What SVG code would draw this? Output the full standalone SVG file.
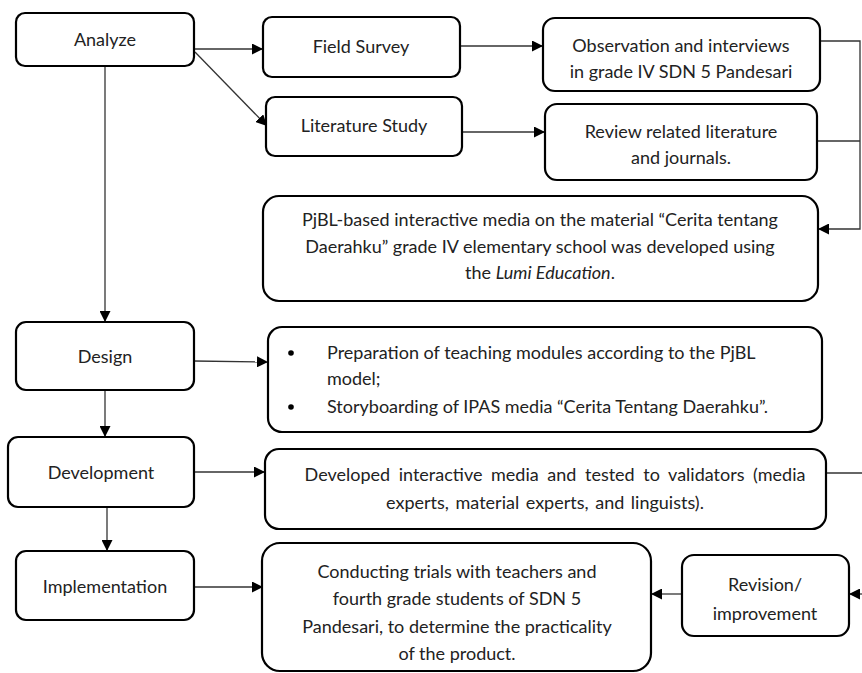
<svg xmlns="http://www.w3.org/2000/svg" width="862" height="673" viewBox="0 0 862 673">
<style>
.box{fill:#fff;stroke:#000;stroke-width:2.2}
.t{font-family:Lato,"Liberation Sans",sans-serif;font-size:18px;fill:#222;text-anchor:middle}
.l{text-anchor:start}
.c{fill:none;stroke:#333;stroke-width:1.3}
</style>
<defs>
<marker id="ah" viewBox="0 0 10 10" refX="10" refY="5" markerWidth="11" markerHeight="11" markerUnits="userSpaceOnUse" orient="auto">
<path d="M0,0 L10,5 L0,10 Z" fill="#000"/>
</marker>
</defs>
<g id="connectors">
<line class="c" x1="194" y1="49" x2="263" y2="49" marker-end="url(#ah)"/>
<line class="c" x1="195" y1="52" x2="267" y2="126" marker-end="url(#ah)"/>
<line class="c" x1="460" y1="46" x2="543" y2="46" marker-end="url(#ah)"/>
<line class="c" x1="462" y1="132" x2="545" y2="132" marker-end="url(#ah)"/>
<polyline class="c" points="820,41 860,41 860,229 818,229" marker-end="url(#ah)"/>
<line class="c" x1="817" y1="141" x2="860" y2="141"/>
<line class="c" x1="105" y1="66" x2="105" y2="322" marker-end="url(#ah)"/>
<line class="c" x1="194" y1="361" x2="268" y2="362" marker-end="url(#ah)"/>
<line class="c" x1="105" y1="390" x2="105" y2="437" marker-end="url(#ah)"/>
<line class="c" x1="194" y1="472" x2="265" y2="472" marker-end="url(#ah)"/>
<line class="c" x1="826" y1="473" x2="862" y2="473"/>
<line class="c" x1="107" y1="507" x2="107" y2="551" marker-end="url(#ah)"/>
<line class="c" x1="190" y1="587" x2="263" y2="587" marker-end="url(#ah)"/>
<line class="c" x1="682" y1="594" x2="651" y2="594" marker-end="url(#ah)"/>
<line class="c" x1="862" y1="594" x2="849" y2="594" marker-end="url(#ah)"/>
</g>
<g id="analyze">
<rect class="box" x="16" y="13" width="178" height="53" rx="9"/>
<text class="t" x="105" y="46">Analyze</text>
</g>
<g id="field-survey">
<rect class="box" x="263" y="17" width="197" height="60" rx="9"/>
<text class="t" x="361" y="53">Field Survey</text>
</g>
<g id="literature-study">
<rect class="box" x="266" y="97" width="196" height="59" rx="9"/>
<text class="t" x="364" y="132">Literature Study</text>
</g>
<g id="observation">
<rect class="box" x="543" y="18" width="277" height="73" rx="12"/>
<text class="t" x="681" y="52">Observation and interviews</text>
<text class="t" x="681" y="78">in grade IV SDN 5 Pandesari</text>
</g>
<g id="review">
<rect class="box" x="545" y="104" width="272" height="76" rx="12"/>
<text class="t" x="681" y="138">Review related literature</text>
<text class="t" x="681" y="164">and journals.</text>
</g>
<g id="pjbl-media">
<rect class="box" x="263" y="196" width="555" height="105" rx="16"/>
<text class="t" x="540" y="226">PjBL-based interactive media on the material “Cerita tentang</text>
<text class="t" x="540" y="253">Daerahku” grade IV elementary school was developed using</text>
<text class="t" x="540" y="279">the <tspan font-style="italic">Lumi Education</tspan>.</text>
</g>
<g id="design">
<rect class="box" x="16" y="322" width="178" height="68" rx="10"/>
<text class="t" x="105" y="363">Design</text>
</g>
<g id="design-tasks">
<rect class="box" x="268" y="327" width="554" height="105" rx="14"/>
<circle cx="291" cy="353" r="2.8" fill="#000"/>
<circle cx="291" cy="407" r="2.8" fill="#000"/>
<text class="t l" x="327" y="359">Preparation of teaching modules according to the PjBL</text>
<text class="t l" x="327" y="385">model;</text>
<text class="t l" x="327" y="413">Storyboarding of IPAS media “Cerita Tentang Daerahku”.</text>
</g>
<g id="development">
<rect class="box" x="8" y="437" width="186" height="70" rx="10"/>
<text class="t" x="101" y="479">Development</text>
</g>
<g id="developed-media">
<rect class="box" x="265" y="449" width="561" height="80" rx="14"/>
<text class="t" x="555" y="481" word-spacing="4">Developed interactive media and tested to validators (media</text>
<text class="t" x="545" y="509" word-spacing="2">experts, material experts, and linguists).</text>
</g>
<g id="implementation">
<rect class="box" x="16" y="551" width="178" height="69" rx="10"/>
<text class="t" x="105" y="593">Implementation</text>
</g>
<g id="trials">
<rect class="box" x="262" y="543" width="389" height="128" rx="18"/>
<text class="t" x="457" y="578">Conducting trials with teachers and</text>
<text class="t" x="457" y="605">fourth grade students of SDN 5</text>
<text class="t" x="457" y="633">Pandesari, to determine the practicality</text>
<text class="t" x="457" y="660">of the product.</text>
</g>
<g id="revision">
<rect class="box" x="682" y="555" width="167" height="81" rx="12"/>
<text class="t" x="765" y="591">Revision/</text>
<text class="t" x="765" y="620">improvement</text>
</g>
</svg>
